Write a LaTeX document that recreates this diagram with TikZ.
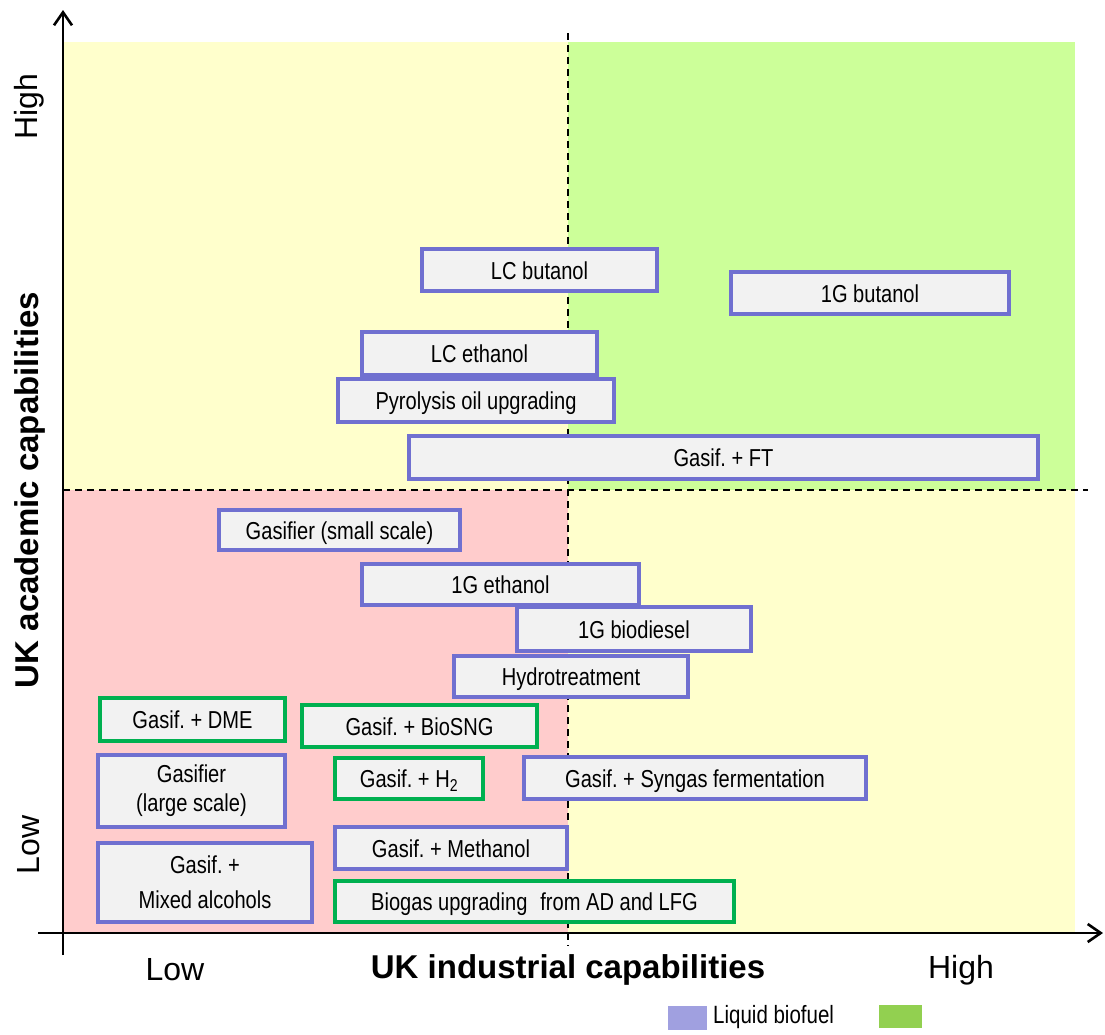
\documentclass[tikz,border=0pt]{standalone}
\usepackage{fontspec}
\setmainfont{Liberation Sans}
\newfontfamily\narrowfont[FakeStretch=0.82]{Liberation Sans}
\usetikzlibrary{arrows.meta}
\frenchspacing

\definecolor{paleyellow}{RGB}{255,255,204}
\definecolor{palegreen}{RGB}{204,255,153}
\definecolor{palered}{RGB}{255,204,204}
\definecolor{boxfill}{RGB}{242,242,242}
\definecolor{liquidedge}{RGB}{112,112,208}
\definecolor{gasedge}{RGB}{0,176,80}
\definecolor{liquidkey}{RGB}{160,160,224}
\definecolor{gaskey}{RGB}{146,208,80}

\tikzset{
  techbox/.style={draw, line width=4pt, fill=boxfill, inner sep=0pt,
    align=center, font=\narrowfont\fontsize{24.5}{29}\selectfont,
    text height=18.5pt, text depth=0pt},
  twoline/.style={text height=, text depth=},
  liquid/.style={techbox, draw=liquidedge},
  gaseous/.style={techbox, draw=gasedge},
  axisline/.style={line width=2.6pt, -{Straight Barb[length=13pt,width=18pt,line width=2.6pt]}},
  divider/.style={line width=1.1pt, dash pattern=on 7pt off 5pt},
  ticklabel/.style={font=\fontsize{32}{36}\selectfont, inner sep=0pt},
  axistitle/.style={font=\bfseries\fontsize{33}{36}\selectfont, inner sep=0pt},
  keylabel/.style={font=\narrowfont\fontsize{25}{28}\selectfont, inner sep=0pt, anchor=west}
}

\begin{document}
\begin{tikzpicture}[x=1pt,y=-1pt]
\useasboundingbox (0,0) rectangle (1105,1034);

% quadrant backgrounds
\fill[paleyellow] (63,42) rectangle (568,490);
\fill[palegreen]  (568,42) rectangle (1075,490);
\fill[palered]    (63,490) rectangle (568,933);
\fill[paleyellow] (568,490) rectangle (1075,933);

% quadrant dividers
\draw[divider] (568,33) -- (568,946);
\draw[divider] (63,490) -- (1088,490);

% axes
\coordinate (yfoot) at (63,955);
\coordinate (ytip) at (63,10);
\coordinate (xfoot) at (38,933);
\coordinate (xtip) at (1103,933);
\draw[axisline] (yfoot) -- (ytip);
\draw[axisline] (xfoot) -- (xtip);

% axis labels
\node[ticklabel, rotate=90] (yhigh) at (29,107) {High};
\node[ticklabel, rotate=90] (ylow) at (29,845) {Low};
\node[axistitle, rotate=90] (ytitle) at (30,490) {UK academic capabilities};
\node[ticklabel] (xlow) at (175,970) {Low};
\node[axistitle] (xtitle) at (568,970) {UK industrial capabilities};
\node[ticklabel] (xhigh) at (961,970) {High};

% technologies
\node[liquid, minimum width=235pt, minimum height=42pt] (lcbut) at (539.5,270) {LC butanol};
\node[liquid, minimum width=278pt, minimum height=42pt] (gbut) at (870,293) {1G butanol};
\node[liquid, minimum width=235pt, minimum height=43pt] (lceth) at (479.5,353.5) {LC ethanol};
\node[liquid, minimum width=276pt, minimum height=43pt] (pyro) at (476,400.5) {Pyrolysis oil upgrading};
\node[liquid, minimum width=629pt, minimum height=43pt] (ft) at (723.5,457.5) {Gasif. + FT};
\node[liquid, minimum width=241pt, minimum height=40pt] (gsmall) at (339.5,530) {Gasifier (small scale)};
\node[liquid, minimum width=277pt, minimum height=41pt] (geth) at (500.5,584.5) {1G ethanol};
\node[liquid, minimum width=234pt, minimum height=44pt] (gbio) at (634,629) {1G biodiesel};
\node[liquid, minimum width=234pt, minimum height=41pt] (hydro) at (571,676.5) {Hydrotreatment};
\node[gaseous, minimum width=185pt, minimum height=43pt] (dme) at (192.5,719.5) {Gasif. + DME};
\node[gaseous, minimum width=235pt, minimum height=42pt] (sng) at (419.5,726) {Gasif. + BioSNG};
\node[liquid, twoline, minimum width=187pt, minimum height=72pt] (glarge) at (191.5,791) {Gasifier\\(large scale)};
\node[gaseous, minimum width=148pt, minimum height=41pt] (htwo) at (409,778.5) {Gasif. + H\textsubscript{2}};
\node[liquid, minimum width=342pt, minimum height=42pt] (syn) at (695,778) {Gasif. + Syngas fermentation};
\node[liquid, minimum width=232pt, minimum height=42pt] (meth) at (451,848) {Gasif. + Methanol};
\node[liquid, twoline, minimum width=214pt, minimum height=79pt, font=\narrowfont\fontsize{24.5}{35}\selectfont] (mixed) at (205,882.5) {Gasif. +\\Mixed alcohols};
\node[gaseous, minimum width=399pt, minimum height=41pt] (biogas) at (534.5,901.5) {Biogas upgrading\hspace{0.3em} from AD and LFG};

% key
\node[fill=liquidkey, minimum width=39pt, minimum height=24pt, inner sep=0pt] (keyliq) at (687.5,1018) {};
\node[keylabel] (keyliqtext) at (713,1017) {Liquid biofuel};
\node[fill=gaskey, minimum width=43pt, minimum height=23pt, inner sep=0pt] (keygas) at (900.5,1016.5) {};
\end{tikzpicture}
\end{document}
